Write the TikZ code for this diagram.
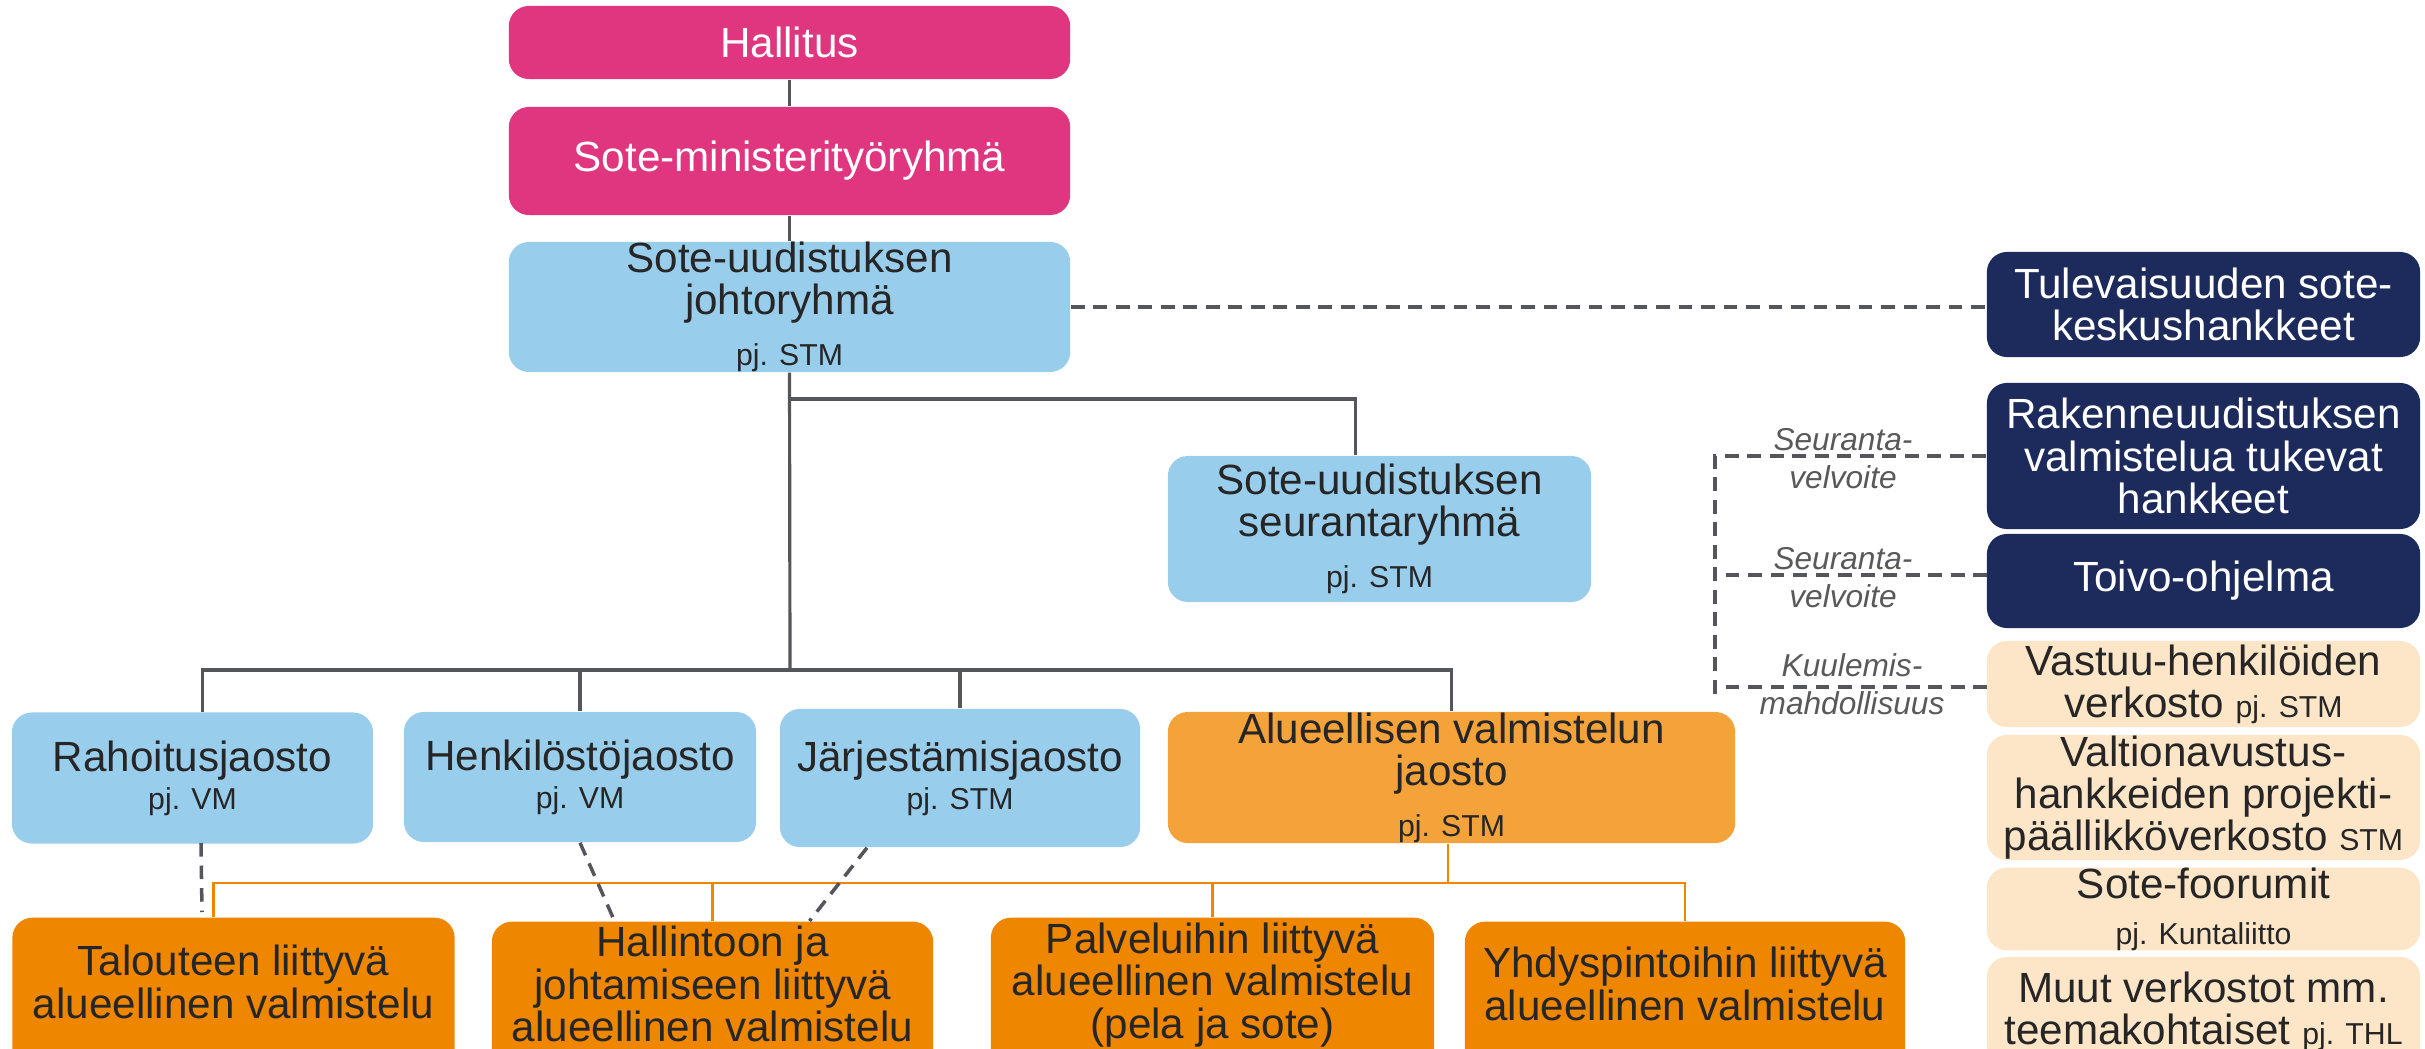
\documentclass[tikz,border=0pt]{standalone}
\usepackage{fontspec}
\setmainfont{Liberation Sans}
\usetikzlibrary{calc}

\definecolor{hallpink}{HTML}{E0357F}
\definecolor{jaostoblue}{HTML}{99CDEC}
\definecolor{aluelight}{HTML}{F4A23A}
\definecolor{aluedark}{HTML}{EF8600}
\definecolor{hankenavy}{HTML}{1C2B5C}
\definecolor{verkpeach}{HTML}{FDE5C7}
\definecolor{textgray}{HTML}{262626}
\definecolor{linegray}{HTML}{55565C}
\definecolor{labelgray}{HTML}{595959}

\newcommand\mainsize{\fontsize{12}{12}\selectfont}
\newcommand\pjsize{\fontsize{8.6}{10}\selectfont}

\begin{document}
\begin{tikzpicture}[x=0.01cm,y=-0.01cm,
   box/.style={rectangle, rounded corners=0.2cm, inner sep=0pt, align=center, text=textgray, font=\mainsize},
   boxtext/.style={inner sep=0pt, align=center, text=textgray, font=\mainsize},
   pinkbox/.style={box, fill=hallpink, text=white},
   bluebox/.style={box, fill=jaostoblue},
   alubox/.style={box, fill=aluelight},
   valmbox/.style={box, fill=aluedark, anchor=north, minimum height=1.6cm},
   navybox/.style={box, fill=hankenavy, text=white},
   peachbox/.style={box, fill=verkpeach},
   grayline/.style={draw=linegray, line width=0.9pt},
   orangeline/.style={draw=aluedark, line width=0.8pt},
   dashline/.style={draw=linegray, line width=1pt, dash pattern=on 3.9pt off 2.5pt},
   seurlabel/.style={align=center, text=labelgray, font=\fontsize{9}{10.8}\selectfont\itshape}
]
   \useasboundingbox (0,0) rectangle (2425,1049);
   \clip (0,0) rectangle (2425,1049);

   \node[pinkbox, minimum width=5.61cm, minimum height=0.73cm] (hallitus) at (789.5,42.5) {Hallitus};
   \node[pinkbox, minimum width=5.61cm, minimum height=1.08cm] (ministeri) at (789.5,161) {Sote-ministerityöryhmä};
   \node[bluebox, minimum width=5.61cm, minimum height=1.28cm] (johto) at (789.5,307) {Sote-uudistuksen\\johtoryhmä\\[2.5pt]{\pjsize pj. STM}};
   \node[bluebox, minimum width=4.23cm, minimum height=1.46cm] (seuranta) at (1379.5,529) {Sote-uudistuksen\\seurantaryhmä\\[2.5pt]{\pjsize pj. STM}};

   \node[bluebox, minimum width=3.61cm, minimum height=1.31cm] (rahoitus) at (192.5,778) {Rahoitusjaosto\\[-1.2pt]{\pjsize pj. VM}};
   \node[bluebox, minimum width=3.52cm, minimum height=1.30cm] (henkilosto) at (580,777) {Henkilöstöjaosto\\[-1.2pt]{\pjsize pj. VM}};
   \node[bluebox, minimum width=3.60cm, minimum height=1.38cm] (jarjestamis) at (960,778) {Järjestämisjaosto\\[-1.2pt]{\pjsize pj. STM}};
   \node[alubox, minimum width=5.67cm, minimum height=1.31cm] (alueellinen) at (1451.5,777.5) {Alueellisen valmistelun\\jaosto\\[2.5pt]{\pjsize pj. STM}};

   \node[valmbox, minimum width=4.42cm] (talous) at (233.5,917) {};
   \node[valmbox, minimum width=4.41cm] (hallinto) at (712.5,921) {};
   \node[valmbox, minimum width=4.43cm] (palvelu) at (1212.5,917) {};
   \node[valmbox, minimum width=4.40cm] (yhdyspinta) at (1685,921) {};
   \node[boxtext] (taloustext) at (233.5,982) {Talouteen liittyvä\\alueellinen valmistelu};
   \node[boxtext] (hallintotext) at (712.5,984) {Hallintoon ja\\johtamiseen liittyvä\\alueellinen valmistelu};
   \node[boxtext] (palvelutext) at (1212.5,985) {Palveluihin liittyvä\\alueellinen valmistelu\\(pela ja sote)};
   \node[boxtext] (yhdyspintatext) at (1685,984) {Yhdyspintoihin liittyvä\\alueellinen valmistelu};

   \node[navybox, minimum width=4.33cm, minimum height=1.05cm] (tulevaisuus) at (2203.5,304.5) {Tulevaisuuden sote-\\keskushankkeet};
   \node[navybox, minimum width=4.33cm, minimum height=1.46cm] (rakenne) at (2203.5,456) {Rakenneuudistuksen\\valmistelua tukevat\\hankkeet};
   \node[navybox, minimum width=4.33cm, minimum height=0.94cm] (toivo) at (2203.5,581) {Toivo-ohjelma};
   \node[peachbox, minimum width=4.33cm, minimum height=0.86cm] (vastuu) at (2203.5,684) {Vastuu-henkilöiden\\verkosto {\pjsize pj. STM}};
   \node[peachbox, minimum width=4.33cm, minimum height=1.25cm] (valtion) at (2203.5,797.5) {Valtionavustus-\\hankkeiden projekti-\\päällikköverkosto {\pjsize STM}};
   \node[peachbox, minimum width=4.33cm, minimum height=0.76cm] (foorumi) at (2203.5,909) {Sote-foorumit\\[1pt]{\pjsize pj. Kuntaliitto}};
   \node[peachbox, minimum width=4.33cm, minimum height=1.08cm] (muut) at (2203.5,1011) {Muut verkostot mm.\\teemakohtaiset {\pjsize pj. THL}};

   \coordinate (seurbranch) at (790,399);
   \coordinate (bus) at (790,670);
   \coordinate (obus) at (1448,883);
   \coordinate (bracket) at (1715,698);
   \coordinate (rahoitusdash) at (201,843);
   \coordinate (talousdash) at (202,912);
   \coordinate (toivodash) at (1987,575);
   \coordinate (vastuudash) at (1987,687);

   \draw[grayline] (hallitus.south) -- (ministeri.north);
   \draw[grayline] (ministeri.south) -- (johto.north);
   \draw[grayline] (johto.south) -- (bus);
   \draw[grayline] (seurbranch) -| ($(seuranta.north)+(-24,0)$);
   \draw[grayline] ($(rahoitus.north)+(10,0)$) |- (bus) -| (alueellinen.north);
   \foreach \n in {henkilosto, jarjestamis}
      \draw[grayline] (\n.north) -- (\n.north |- bus);

   \draw[orangeline] (obus |- alueellinen.south) -- (obus);
   \draw[orangeline] ($(talous.north)+(-20,0)$) |- (obus) -| (yhdyspinta.north);
   \foreach \n in {hallinto, palvelu}
      \draw[orangeline] (\n.north) -- (\n.north |- obus);

   \draw[dashline] (rahoitusdash) -- (talousdash);
   \draw[dashline] (henkilosto.south) -- ($(hallinto.north)+(-98,0)$);
   \draw[dashline] ($(jarjestamis.south)+(-93,0)$) -- ($(hallinto.north)+(97,0)$);

   \draw[dashline] (johto.east) -- (johto.east -| tulevaisuus.west);
   \draw[dashline] (rakenne.west) -| (bracket);
   \draw[dashline] (toivodash) -- (toivodash -| bracket);
   \draw[dashline] (vastuudash) -- (vastuudash -| bracket);

   \node[seurlabel] (seurlabel1) at (1843,459) {Seuranta-\\velvoite};
   \node[seurlabel] (seurlabel2) at (1843,578) {Seuranta-\\velvoite};
   \node[seurlabel] (kuulemis) at (1852,684) {Kuulemis-\\mahdollisuus};
\end{tikzpicture}
\end{document}
